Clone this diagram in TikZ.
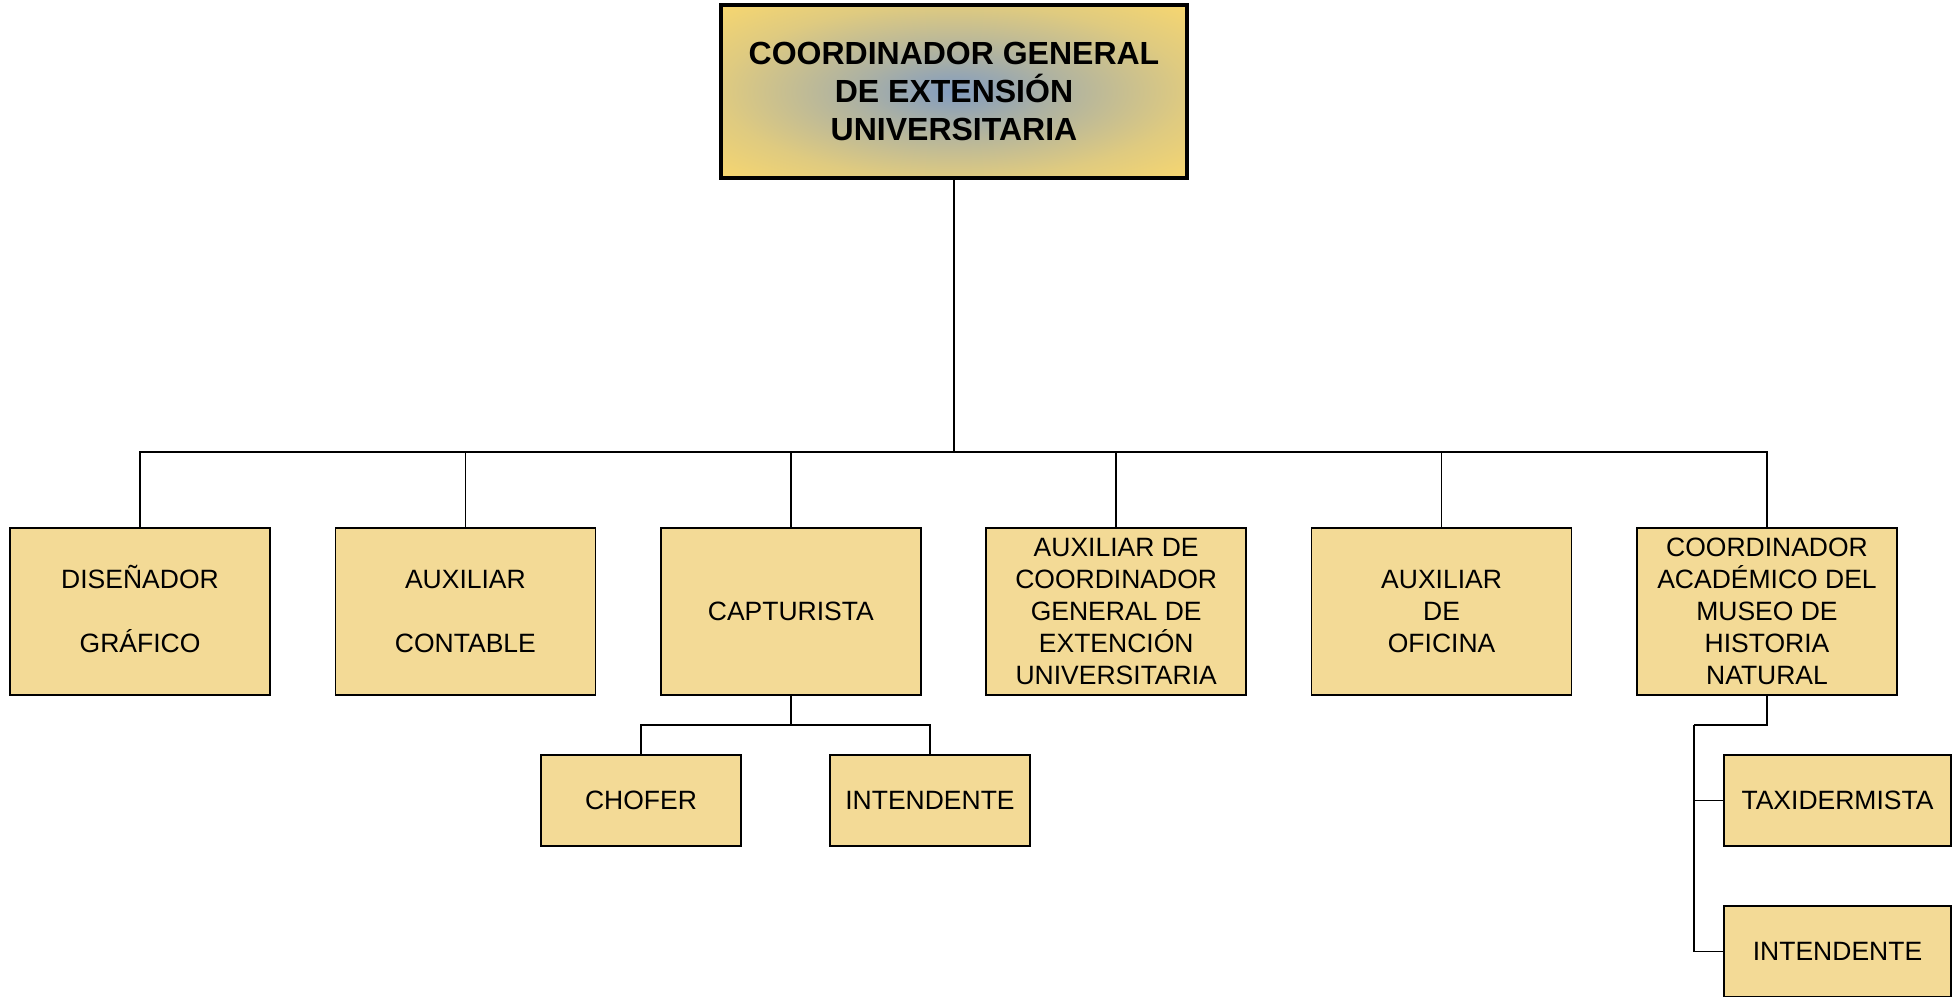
\documentclass[tikz,border=0pt]{standalone}
\usepackage{fontspec}
\setmainfont{Liberation Sans}
\definecolor{boxfill}{RGB}{243,218,150}
\definecolor{goldedge}{RGB}{246,214,112}
\definecolor{greyblue}{RGB}{130,156,192}
\pgfdeclareradialshading{bossshade}{\pgfpoint{0bp}{0bp}}{color(0bp)=(greyblue); color(10bp)=(greyblue!65!goldedge); color(25bp)=(goldedge!80!greyblue); color(35bp)=(goldedge); color(80bp)=(goldedge)}

\begin{document}
\begin{tikzpicture}[x=1pt,y=-1pt,
  postbox/.style={draw=black,line width=1.6pt,fill=boxfill,minimum width=260pt,minimum height=167pt,inner sep=0pt,align=center,font=\fontsize{26.5}{32}\selectfont},
  subbox/.style={postbox,minimum width=200pt,minimum height=91pt},
  headbox/.style={draw=black,line width=4pt,shading=bossshade,minimum width=466pt,minimum height=173pt,inner sep=0pt,align=center,font=\bfseries\fontsize{32}{38}\selectfont},
  link/.style={draw=black,line width=1.6pt}]

\useasboundingbox (0,0) rectangle (1959,996);

\node[headbox] (coord) at (954,91.5) {COORDINADOR GENERAL\\DE EXTENSIÓN\\UNIVERSITARIA};

\node[postbox] (dis) at (140,611.5) {\raisebox{0pt}[19pt]{DISEÑADOR}\\[32pt]GRÁFICO};
\node[postbox] (aux) at (465.4,611.5) {AUXILIAR\\[32pt]CONTABLE};
\node[postbox] (cap) at (790.8,611.5) {CAPTURISTA};
\node[postbox] (auxc) at (1116.2,611.5) {AUXILIAR DE\\COORDINADOR\\GENERAL DE\\EXTENCIÓN\\UNIVERSITARIA};
\node[postbox] (ofi) at (1441.6,611.5) {AUXILIAR\\DE\\OFICINA};
\node[postbox] (mus) at (1767,611.5) {COORDINADOR\\ACADÉMICO DEL\\MUSEO DE\\HISTORIA\\NATURAL};

\node[subbox] (chofer) at (641,800.5) {CHOFER};
\node[subbox] (intcap) at (930,800.5) {INTENDENTE};
\node[subbox,minimum width=227pt] (taxi) at (1837.5,800.5) {TAXIDERMISTA};
\node[subbox,minimum width=227pt] (intmus) at (1837.5,951.5) {INTENDENTE};

% main bus
\coordinate (bus) at (954,452);
\draw[link] (coord.south) -- (bus);
\foreach \n in {dis,aux,cap,auxc,ofi,mus} {
    \draw[link] (bus) -| (\n.north);
}

% under capturista
\coordinate (capbus) at (790.8,725);
\draw[link] (cap.south) -- (capbus);
\draw[link] (capbus) -| (chofer.north);
\draw[link] (capbus) -| (intcap.north);

% under museo
\coordinate (musbus) at (1694,725);
\draw[link] (mus.south) |- (musbus);
\draw[link] (musbus) |- (taxi.west);
\draw[link] (musbus) |- (intmus.west);

\end{tikzpicture}
\end{document}
